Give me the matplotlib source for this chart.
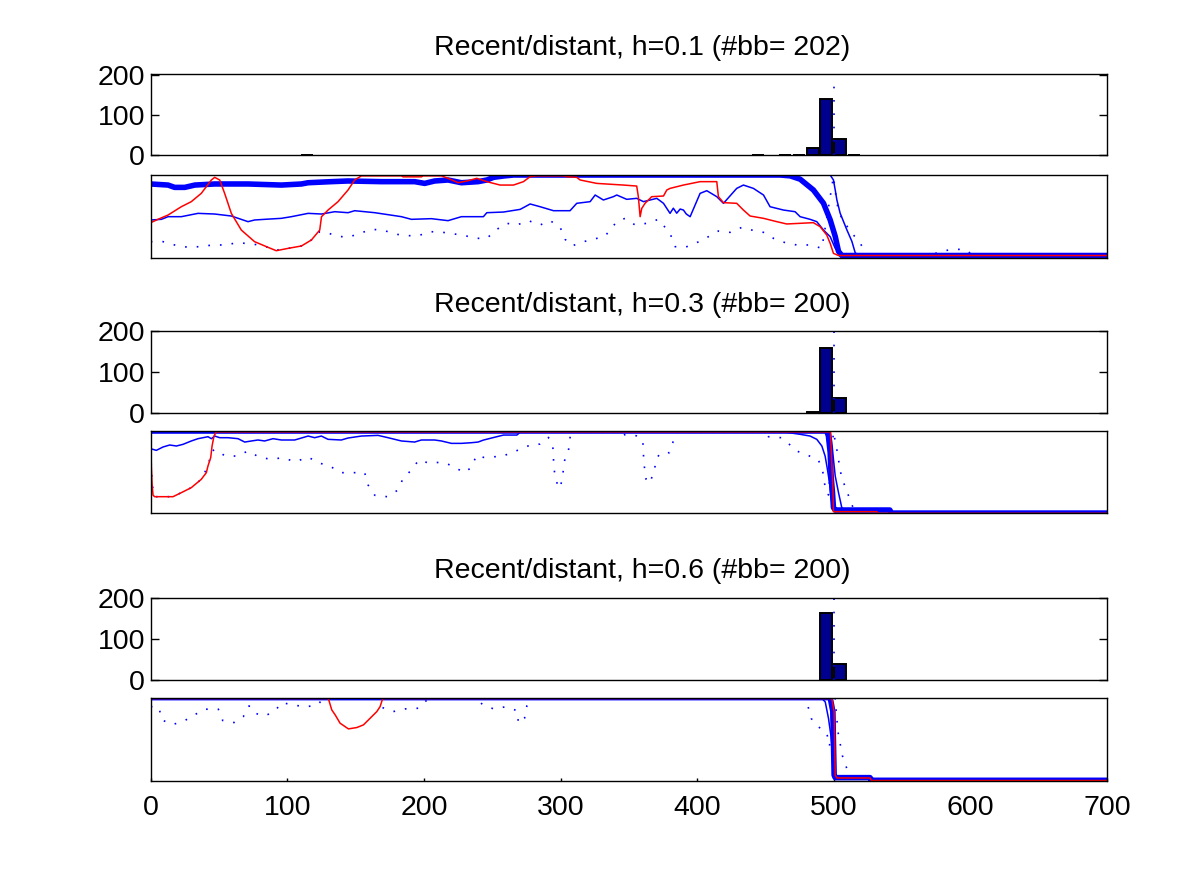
import matplotlib.pyplot as plt
import numpy as np

plt.rcParams['font.family'] = ['Liberation Sans', 'DejaVu Sans']

# histogram of detected change points, one per h
h_values = ['0.1', '0.3', '0.6']
n_bb = [202, 200, 200]
bins_1 = [114.5, 444.5, 464.5, 474.5, 484.5, 494.5, 504.5, 514.5]
counts_1 = [1, 1, 1, 1, 17, 140, 40, 1]
bins_2 = [484.5, 494.5, 504.5]
counts_2 = [4, 159, 37]
bins_3 = [494.5, 504.5]
counts_3 = [162, 38]
true_change = 500

# h = 0.1 curves (x, y)
h1_thick = [(0, 0.892), (12.7, 0.879), (17.5, 0.851), (24.9, 0.851), (32.3, 0.879), (46.8, 0.892),
            (71.2, 0.892), (95.6, 0.879), (110.3, 0.892), (115.2, 0.907), (132.2, 0.92), (144.4, 0.928),
            (168.8, 0.92), (193.2, 0.92), (200.5, 0.899), (207.8, 0.928), (217.6, 0.94), (227.4, 0.907),
            (239.6, 0.92), (246, 0.94), (250.9, 0.972), (258.2, 0.988), (265.5, 1.0), (460.7, 1.0),
            (468, 0.99), (475.3, 0.95), (485, 0.82), (492.4, 0.66), (497.3, 0.46), (501, 0.26),
            (503.4, 0.08), (505.8, 0.03), (700, 0.03)]
h1_top = [(0, 1.0), (497.3, 1.0), (499.7, 0.94), (501, 0.82), (502.2, 0.70), (504.6, 0.54),
          (509.5, 0.34), (513.2, 0.20), (515.6, 0.064), (518, 0.03), (700, 0.03)]
h1_mid = [(0, 0.458), (7.8, 0.466), (12.7, 0.498), (22.4, 0.498), (34.6, 0.538), (46.8, 0.53),
          (59, 0.506), (71.2, 0.438), (76, 0.458), (83.4, 0.466), (95.6, 0.478), (103, 0.498),
          (115.2, 0.538), (125, 0.53), (134.7, 0.558), (144.4, 0.546), (149.3, 0.57), (164, 0.546),
          (183.5, 0.498), (190.8, 0.466), (205.4, 0.474), (217.6, 0.45), (227.4, 0.498), (233.7, 0.498),
          (243.5, 0.498), (246, 0.546), (258.2, 0.554), (270.4, 0.586), (277.7, 0.651), (285, 0.618),
          (294.8, 0.57), (306.9, 0.57), (311.8, 0.659), (321.6, 0.679), (325.3, 0.759), (331.3, 0.699),
          (338.6, 0.739), (341.1, 0.759), (348.4, 0.707), (355.7, 0.719), (360.6, 0.679), (370.4, 0.719),
          (375.3, 0.659), (380.1, 0.538), (382.5, 0.6), (385, 0.54), (387.5, 0.59), (389.9, 0.578),
          (392, 0.53), (394.8, 0.498), (402.1, 0.779), (407, 0.811), (414.3, 0.739), (419.2, 0.659),
          (428.9, 0.839), (433.8, 0.879), (441.1, 0.839), (448.5, 0.759), (453.3, 0.618), (463.1, 0.578),
          (471.6, 0.558), (475.3, 0.498), (482.6, 0.466), (487.5, 0.438), (492.4, 0.337), (497.3, 0.257),
          (501, 0.117), (504.6, 0.036), (700, 0.03)]
h1_red = [(0, 0.426), (5.3, 0.466), (12.7, 0.518), (22.4, 0.618), (29.7, 0.679), (37, 0.779),
          (44.4, 0.94), (46.8, 0.972), (50.5, 0.94), (54.1, 0.779), (59, 0.538), (66.3, 0.337),
          (76, 0.197), (85.8, 0.129), (91.9, 0.088), (100.5, 0.116), (110.3, 0.145), (117.6, 0.217),
          (123.7, 0.337), (125, 0.498), (129.8, 0.578), (137.1, 0.679), (144.4, 0.819), (149.3, 0.94),
          (154.2, 0.99), (183.5, 0.99), (184.7, 0.978), (198.1, 0.978), (199.3, 0.99), (212.8, 0.99),
          (217.6, 0.96), (225, 0.907), (232.3, 0.932), (238.6, 0.96), (246, 0.92), (255.7, 0.879),
          (265.5, 0.879), (272.8, 0.92), (277.7, 0.98), (282.5, 0.99), (302, 0.99), (304.5, 0.98),
          (311.8, 0.972), (314.3, 0.94), (326.5, 0.899), (346, 0.879), (355.7, 0.867), (356.9, 0.739),
          (358.2, 0.498), (359.4, 0.598), (361.8, 0.659), (366.7, 0.739), (375.3, 0.747), (377.7, 0.819),
          (380.1, 0.839), (389.9, 0.879), (402.1, 0.92), (414.3, 0.92), (415.5, 0.739), (419.2, 0.667),
          (428.9, 0.659), (433.8, 0.578), (438.7, 0.506), (448.5, 0.478), (458.2, 0.438), (465.5, 0.41),
          (475.3, 0.418), (485, 0.426), (489.9, 0.378), (494.8, 0.277), (497.3, 0.177), (499.7, 0.056),
          (503.4, 0.03), (700, 0.03)]
h1_dots = [(0, 0.197), (9, 0.197), (17.5, 0.157), (27.3, 0.129), (35.8, 0.137), (45.6, 0.157),
           (54.1, 0.157), (63.9, 0.185), (76, 0.165), (85.8, 0.129), (91.9, 0.095), (100.5, 0.116),
           (110.3, 0.145), (117.6, 0.217), (123.7, 0.317), (127.3, 0.317), (135.8, 0.265), (144.4, 0.249),
           (153, 0.297), (161.5, 0.345), (170, 0.337), (178.6, 0.289), (187.1, 0.269), (195.6, 0.269),
           (205.4, 0.317), (214, 0.309), (222.5, 0.289), (231, 0.265), (238.3, 0.237), (246, 0.237),
           (253.3, 0.345), (260.6, 0.418), (268, 0.398), (276.5, 0.45), (285, 0.398), (292.4, 0.45),
           (299.7, 0.369), (303.3, 0.225), (308.2, 0.145), (316.8, 0.197), (324.1, 0.225), (332.6, 0.265),
           (341.1, 0.438), (347.2, 0.478), (354.5, 0.398), (363.1, 0.418), (371.6, 0.466), (380.1, 0.297),
           (383.8, 0.137), (391.2, 0.129), (399.7, 0.185), (408.2, 0.257), (415.5, 0.325), (424.1, 0.309),
           (432.6, 0.369), (439.9, 0.337), (448.5, 0.309), (455.8, 0.237), (464.3, 0.185), (472.8, 0.157),
           (482.6, 0.157), (491.2, 0.117), (499.7, 0.98), (502.2, 0.66), (504.6, 0.518), (509.5, 0.386),
           (514.4, 0.277), (518.8, 0.185), (522.3, 0.104), (524, 0.03), (570, 0.03), (577.8, 0.076),
           (586.4, 0.104), (596.1, 0.104), (602, 0.03), (700, 0.03)]

# h = 0.3 curves
h3_thick = [(0, 1.0), (494.8, 1.0), (496, 0.94), (497.3, 0.74), (498, 0.45), (499, 0.25),
            (499.7, 0.07), (501, 0.04), (541, 0.04), (542, 0.003), (700, 0.003)]
h3_top = [(0, 1.0), (497.3, 1.0), (498.5, 0.858), (499.7, 0.656), (501, 0.453), (503.4, 0.251),
          (505.8, 0.069), (507.1, 0.045), (541, 0.045), (542, 0.003), (700, 0.003)]
h3_mid = [(0, 0.785), (4.1, 0.765), (9, 0.806), (13.9, 0.83), (18.8, 0.818), (23.6, 0.838),
          (29.7, 0.879), (34.6, 0.907), (38.3, 0.919), (41.9, 0.931), (44.4, 0.907), (46.8, 0.939),
          (50.5, 0.919), (56.6, 0.919), (63.9, 0.907), (68.8, 0.866), (73.7, 0.879), (78.5, 0.891),
          (83.4, 0.879), (89.5, 0.907), (95.6, 0.891), (105.4, 0.891), (110.3, 0.915), (115.2, 0.939),
          (120, 0.919), (124.9, 0.939), (129.8, 0.899), (139.5, 0.891), (144.4, 0.915), (154.2, 0.939),
          (166.4, 0.947), (173.7, 0.919), (183.5, 0.879), (193.2, 0.866), (198.1, 0.891), (207.8, 0.891),
          (212.8, 0.879), (220.1, 0.85), (227.4, 0.85), (234.7, 0.858), (239.6, 0.866), (243.5, 0.89),
          (253.3, 0.931), (258.2, 0.951), (268, 0.951), (270.4, 0.985), (465, 0.985), (475.3, 0.96),
          (482.6, 0.939), (487.5, 0.899), (491.2, 0.818), (493.6, 0.696), (495.3, 0.534), (496.8, 0.372),
          (497.8, 0.211), (499.3, 0.048), (501, 0.04), (541, 0.04), (542, 0.003), (700, 0.003)]
h3_red = [(0, 0.75), (1, 0.35), (1.7, 0.22), (2.9, 0.202), (16.3, 0.202), (22.4, 0.251),
          (29.7, 0.312), (37, 0.413), (40.7, 0.494), (41.9, 0.575), (43.9, 0.676), (44.9, 0.818),
          (46.3, 0.939), (48, 0.99), (497.5, 0.99), (499.3, 0.3), (499.7, 0.02), (531.5, 0.02),
          (532.5, 0.0), (700, 0.0)]
h3_dots = [(0, 0.75), (1, 0.35), (2.9, 0.202), (16.3, 0.202), (29.7, 0.312), (37, 0.413),
           (41.9, 0.575), (44.5, 0.75), (46.8, 0.777), (54.6, 0.696), (63.4, 0.696), (71.2, 0.757),
           (79.3, 0.684), (87.8, 0.656), (96.8, 0.676), (105.4, 0.627), (107.3, 0.635), (115.2, 0.684),
           (122.5, 0.615), (131, 0.575), (139.1, 0.494), (148.1, 0.494), (156.6, 0.494), (159.1, 0.344),
           (164, 0.219), (173, 0.202), (181, 0.283), (184.7, 0.425), (190.8, 0.526), (196.2, 0.648),
           (204.2, 0.607), (212.8, 0.623), (221.3, 0.575), (229.1, 0.494), (234.7, 0.555), (238.4, 0.704),
           (243.5, 0.68), (252, 0.688), (256.2, 0.688), (265, 0.74), (273.3, 0.801), (280.1, 0.841),
           (285, 0.841), (291.1, 0.922), (294.3, 0.817), (294.8, 0.655), (295.5, 0.506), (297.7, 0.344),
           (299.7, 0.304), (301.6, 0.465), (302.6, 0.627), (305.8, 0.769), (307, 0.931), (310, 0.985),
           (345, 0.985), (347.2, 0.951), (355.3, 0.943), (360.2, 0.883), (360.6, 0.721), (361.3, 0.567),
           (362.6, 0.413), (365, 0.364), (368.5, 0.506), (369.9, 0.655), (372.8, 0.729), (379.6, 0.737),
           (382.6, 0.883), (385, 0.985), (450, 0.985), (452.1, 0.931), (461.4, 0.919), (468, 0.83),
           (472.8, 0.757), (480.6, 0.708), (488.7, 0.648), (491.9, 0.506), (493.1, 0.364), (496, 0.223),
           (499.7, 0.99), (502.6, 0.737), (504.1, 0.579), (505.8, 0.425), (509.5, 0.275), (512.4, 0.13),
           (515, 0.04), (541, 0.04), (542, 0.003), (700, 0.003)]

# h = 0.6 curves
h6_thick = [(0, 1.0), (497.3, 1.0), (499.3, 0.83), (499.7, 0.47), (500.2, 0.07), (501, 0.04),
            (526.5, 0.04), (527.5, 0.008), (700, 0.008)]
h6_top = [(0, 1.0), (496.5, 1.0), (497.3, 0.97), (498.5, 0.668), (499.7, 0.268), (500.4, 0.048),
          (526.5, 0.04), (527.5, 0.008), (700, 0.008)]
h6_mid = [(0, 1.0), (491, 1.0), (492.5, 0.968), (493.7, 0.948), (496.1, 0.748), (497.8, 0.548),
          (499.3, 0.268), (499.7, 0.048), (526.5, 0.04), (527.5, 0.008), (700, 0.008)]
h6_red = [(0, 0.99), (130, 0.99), (132.5, 0.853), (135, 0.793), (138.6, 0.693), (144.7, 0.625),
          (150.8, 0.641), (155.7, 0.673), (160.6, 0.753), (165.5, 0.833), (167.9, 0.893), (169.8, 0.99),
          (498.5, 0.99), (500.2, 0.828), (501, 0.068), (502.2, 0.036), (526.5, 0.036), (527.5, 0.005),
          (700, 0.005)]
h6_dots = [(0, 0.893), (6.1, 0.881), (8, 0.733), (16.1, 0.677), (24.6, 0.721), (32.4, 0.797),
           (39.7, 0.861), (49.5, 0.861), (52.7, 0.725), (61, 0.701), (67.8, 0.773), (72, 0.901),
           (76.4, 0.813), (82.5, 0.781), (83.7, 0.781), (91, 0.841), (95.9, 0.941), (103.9, 0.913),
           (113.4, 0.889), (122.2, 0.913), (126, 0.985), (166, 0.985), (169.5, 0.881), (177.6, 0.833),
           (186.4, 0.865), (196, 0.873), (200.3, 0.949), (204, 0.985), (239, 0.985), (242.8, 0.917),
           (250.9, 0.865), (259.4, 0.889), (268, 0.845), (269.2, 0.693), (273.6, 0.753), (275.3, 0.901),
           (278, 0.985), (478, 0.985), (481, 0.9), (483.5, 0.748), (488.3, 0.656), (494.9, 0.568),
           (496.8, 0.42), (501, 0.99), (502.9, 0.6), (504.6, 0.448), (506.3, 0.3), (509.5, 0.148),
           (510.7, 0.04), (526.5, 0.04), (527.5, 0.008), (700, 0.008)]

hists = [(bins_1, counts_1), (bins_2, counts_2), (bins_3, counts_3)]
curves = [(h1_thick, h1_top, h1_mid, h1_dots, h1_red),
          (h3_thick, h3_top, h3_mid, h3_dots, h3_red),
          (h6_thick, h6_top, h6_mid, h6_dots, h6_red)]

fig = plt.figure(figsize=(12, 8.69), dpi=100)
left, width = 0.1256, 0.797
hist_boxes = [(0.8216, 0.0929), (0.5244, 0.0947), (0.2175, 0.0947)]
line_boxes = [(0.7031, 0.0955), (0.4093, 0.0947), (0.1013, 0.0959)]
navy = '#00008f'
dotted = (0, (1, 6))

for i in range(3):
    # histogram panel
    hb, hh = hist_boxes[i]
    ax = fig.add_axes([left, hb, width, hh])
    centers, counts = hists[i]
    ax.bar(centers, counts, width=8.6, color=navy, edgecolor='black', linewidth=1.4)
    ax.axvline(true_change, color='blue', lw=1.2, ls=(0, (1, 7)))
    ax.set_xlim(0, 700)
    ax.set_ylim(0, n_bb[i])
    ax.set_xticks([])
    ax.set_yticks([0, 100, 200])
    ax.tick_params(axis='y', direction='in', length=6, width=1, right=True, labelsize=20.5, pad=4)
    ax.set_title('Recent/distant, h=%s (#bb= %d)' % (h_values[i], n_bb[i]),
                 fontsize=20.5, pad=14, x=0.514)
    for s in ax.spines.values():
        s.set_linewidth(1.0)

    # curves panel
    lb, lh = line_boxes[i]
    ax = fig.add_axes([left, lb, width, lh])
    thick, top, mid, dots, red = [np.array(c) for c in curves[i]]
    ax.plot(thick[:, 0], thick[:, 1], color='blue', lw=4)
    ax.plot(top[:, 0], top[:, 1], color='blue', lw=1.1)
    ax.plot(mid[:, 0], mid[:, 1], color='blue', lw=1.1)
    ax.plot(dots[:, 0], dots[:, 1], color='blue', lw=1.2, ls=dotted)
    ax.plot(red[:, 0], red[:, 1], color='red', lw=1.1)
    ax.set_xlim(0, 700)
    ax.set_ylim(0, 1)
    ax.set_yticks([])
    if i < 2:
        ax.set_xticks([])
    else:
        ax.set_xticks(range(0, 701, 100))
        ax.tick_params(axis='x', direction='in', length=2, width=1, labelsize=20.5, pad=10)
    for s in ax.spines.values():
        s.set_linewidth(1.0)

fig.savefig('out.png', dpi=100)
